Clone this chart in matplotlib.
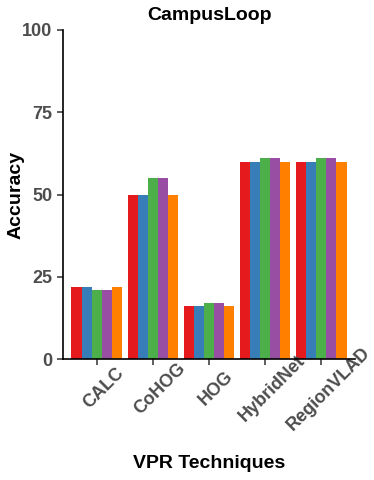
import numpy as np
import matplotlib
matplotlib.use('Agg')
import matplotlib.pyplot as plt
import matplotlib.transforms as mtransforms

plt.rcParams['font.family'] = ['Liberation Sans', 'DejaVu Sans']

techniques = ['CALC', 'CoHOG', 'HOG', 'HybridNet', 'RegionVLAD']
series_colors = ['#E41A1C', '#377EB8', '#4DAF4A', '#984EA3', '#FF7F00']

# one list per series (5 bars in each group)
s1 = [22, 50, 16, 60, 60]
s2 = [22, 50, 16, 60, 60]
s3 = [21, 55, 17, 61, 61]
s4 = [21, 55, 17, 61, 61]
s5 = [22, 50, 16, 60, 60]
series = [s1, s2, s3, s4, s5]

W, H = 374, 480
fig = plt.figure(figsize=(W / 100, H / 100), dpi=100)
ax = fig.add_axes([63 / W, (H - 359) / H, (355 - 63) / W, (359 - 30) / H])

x = np.arange(1, len(techniques) + 1)
bw = 0.9 / len(series)
for i, vals in enumerate(series):
    off = (i - (len(series) - 1) / 2) * bw
    ax.bar(x + off, vals, width=bw, color=series_colors[i], linewidth=0)

ax.set_xlim(0.4, 5.6)
ax.set_ylim(0, 100)
ax.set_yticks([0, 25, 50, 75, 100])
ax.set_xticks(x)
ax.set_xticklabels(techniques, rotation=45, ha='center', va='center',
                   rotation_mode='anchor')

for s in ['top', 'right']:
    ax.spines[s].set_visible(False)
for s in ['left', 'bottom']:
    ax.spines[s].set_linewidth(1.2)
    ax.spines[s].set_color('black')

ax.tick_params(axis='both', length=4, width=1.1, color='#333333',
               labelsize=13, labelcolor='#4D4D4D')
ax.tick_params(axis='x', pad=0)
shift = mtransforms.ScaledTranslation(7 / 100, -24 / 100, fig.dpi_scale_trans)
for lab in ax.get_xticklabels():
    lab.set_fontweight('bold')
    lab.set_transform(lab.get_transform() + shift)
for lab in ax.get_yticklabels():
    lab.set_fontweight('bold')

fig.text(209 / W, 1 - 15 / H, 'CampusLoop', fontsize=14, fontweight='bold',
         ha='center', va='center')
fig.text(16 / W, 1 - 195 / H, 'Accuracy', fontsize=14, fontweight='bold',
         ha='center', va='center', rotation=90)
fig.text(209 / W, 1 - 463 / H, 'VPR Techniques', fontsize=14,
         fontweight='bold', ha='center', va='center')

fig.savefig('out.png', dpi=100)
